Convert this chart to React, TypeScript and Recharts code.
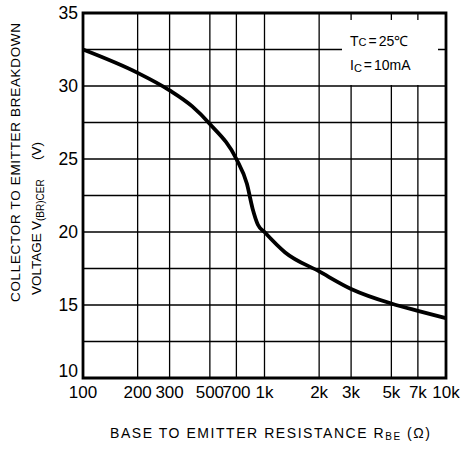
import React from "react";
import {
  CartesianGrid,
  Label,
  Line,
  LineChart,
  ReferenceArea,
  XAxis,
  YAxis,
} from "recharts";

// base-emitter resistance (ohm) vs V(BR)CER (V)
const resistance = [
  100, 200, 300, 400, 500, 700, 800, 860, 920, 1000, 1300, 2000, 3000, 5000,
  7000, 10000,
];
const breakdown = [
  32.5, 30.9, 29.7, 28.6, 27.4, 25.0, 23.3, 21.6, 20.5, 20.0, 18.6, 17.3,
  16.1, 15.1, 14.6, 14.1,
];

const xTicks = [100, 200, 300, 500, 700, 1000, 2000, 3000, 5000, 7000, 10000];
const xTickLabels = ["100", "200", "300", "500", "700", "1k", "2k", "3k", "5k", "7k", "10k"];
const yTicks = [10, 12.5, 15, 17.5, 20, 22.5, 25, 27.5, 30, 32.5, 35];
const yTickLabels = ["10", "", "15", "", "20", "", "25", "", "30", "", "35"];

const data = resistance.map((r, i) => ({ r, v: breakdown[i] }));

const FONT = '"Liberation Sans", Arial, Helvetica, sans-serif';

function YTick({ x, y, payload }: any) {
  const label = yTickLabels[yTicks.indexOf(payload.value)] ?? "";
  if (!label) return null;
  // the bottom label sits a little higher, clear of the "100" below it
  const lift = payload.value === 10 ? -7 : 0;
  return (
    <text
      x={x}
      y={y + lift}
      dy="0.355em"
      textAnchor="end"
      fontSize={17.5}
      fontFamily={FONT}
      fill="#000"
    >
      {label}
    </text>
  );
}

function Annotations() {
  return (
    <g fontFamily={FONT} fill="#000">
      {/* conditions box */}
      <rect x={342} y={20} width={96} height={65} fill="#fff" />
      <text x={350} y={46} fontSize={14}>
        T<tspan fontSize={11}>C</tspan>
        <tspan dx={2}>=</tspan>
        <tspan dx={2}>25℃</tspan>
      </text>
      <text x={350} y={70} fontSize={14}>
        I<tspan fontSize={11} dy={2}>C</tspan>
        <tspan dy={-2} dx={2}>=</tspan>
        <tspan dx={2}>10mA</tspan>
      </text>

      {/* y axis title */}
      <g transform="rotate(-90)">
        <text x={-302} y={20} fontSize={13.5} textLength={279} lengthAdjust="spacing">
          COLLECTOR TO EMITTER BREAKDOWN
        </text>
        <text x={-295} y={41} fontSize={13.5}>
          VOLTAGE
          <tspan x={-230}>V</tspan>
          <tspan fontSize={10} dy={3}>(BR)CER</tspan>
          <tspan x={-160} dy={-3}>(V)</tspan>
        </text>
      </g>

      {/* x axis title */}
      <text x={110} y={438} fontSize={14} textLength={320} lengthAdjust="spacing">
        BASE TO EMITTER RESISTANCE R
        <tspan fontSize={10} dy={2}>BE</tspan>
        <tspan dy={-2}> (Ω)</tspan>
      </text>
    </g>
  );
}

export default function App() {
  return (
    <div style={{ position: "absolute", left: 0, top: 0, width: 468, height: 455, background: "#fff" }}>
      <LineChart
        width={468}
        height={455}
        data={data}
        margin={{ top: 13, right: 22, bottom: 47, left: 23 }}
      >
        <CartesianGrid stroke="#000" strokeWidth={1.3} />
        <XAxis
          dataKey="r"
          type="number"
          scale="log"
          domain={[100, 10000]}
          allowDataOverflow
          ticks={xTicks}
          interval={0}
          tickFormatter={(v) => xTickLabels[xTicks.indexOf(v)] ?? ""}
          tickLine={false}
          axisLine={false}
          height={30}
          tick={{ fontSize: 17, fill: "#000", fontFamily: FONT }}
        >
          <Label content={() => <Annotations />} />
        </XAxis>
        <YAxis
          type="number"
          domain={[10, 35]}
          ticks={yTicks}
          interval={0}
          tickLine={false}
          axisLine={false}
          tickSize={3}
          width={60}
          tick={<YTick />}
        />
        <ReferenceArea
          x1={100}
          x2={10000}
          y1={10}
          y2={35}
          fill="none"
          stroke="#000"
          strokeWidth={2.8}
          ifOverflow="visible"
        />
        <Line
          dataKey="v"
          type="monotone"
          stroke="#000"
          strokeWidth={3.8}
          dot={false}
          isAnimationActive={false}
        />
      </LineChart>
    </div>
  );
}
